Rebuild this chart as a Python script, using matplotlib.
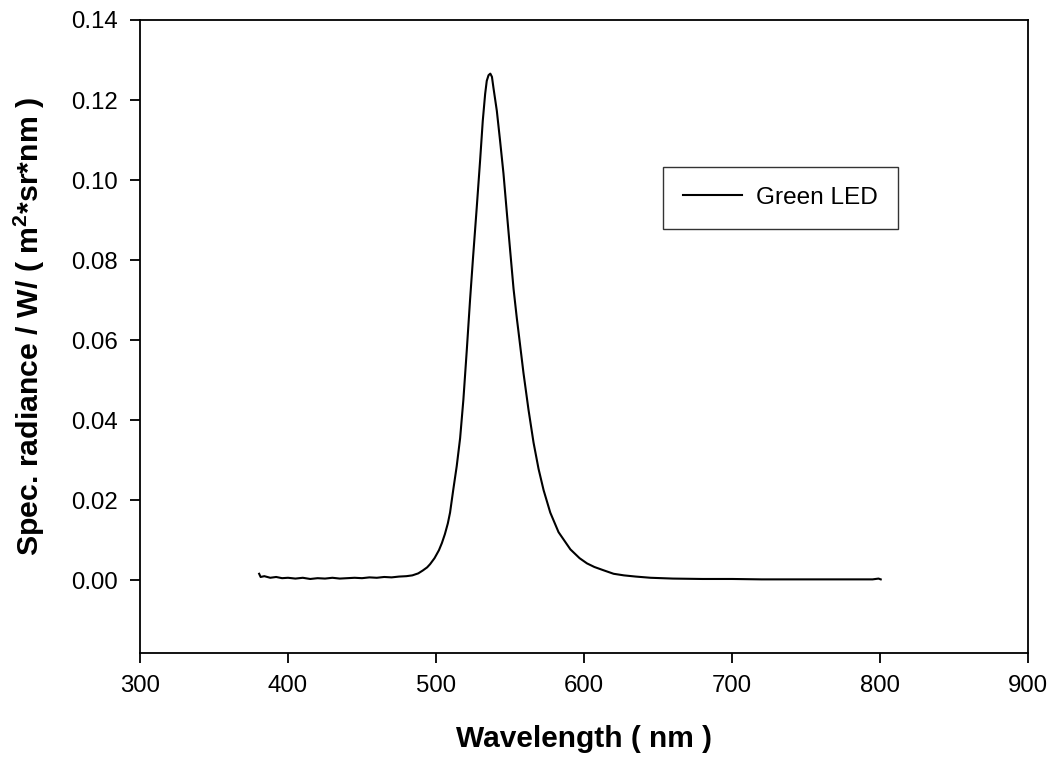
import matplotlib
matplotlib.use("Agg")
import matplotlib.pyplot as plt

plt.rcParams['font.family'] = ['Liberation Sans', 'DejaVu Sans']
plt.rcParams['mathtext.fontset'] = 'custom'
plt.rcParams['mathtext.rm'] = 'Liberation Sans'
plt.rcParams['mathtext.bf'] = 'Liberation Sans:bold'

# Spectrum (wavelength in nm, spectral radiance)
wavelength = [380.5, 381.5, 384, 388, 392, 396, 400, 405, 410, 415, 420, 425,
              430, 435, 440, 445, 450, 455, 460, 465, 470, 475, 480, 484,
              488, 491, 494, 496, 499, 502, 504, 506, 508, 509.5, 511.7, 514,
              516.3, 518.5, 520.8, 523, 525, 527.5, 529.8, 531.6, 533.2, 534.3,
              535.5, 536.7, 537.8, 538.8, 541.1, 543.3, 545.6, 547.9, 550.1,
              552.4, 554.6, 555.7, 559.1, 562.5, 565.9, 569.3, 572.7, 577.2,
              582.8, 590.8, 597, 602, 607, 613, 620, 627, 635, 645, 660, 680,
              700, 720, 740, 760, 780, 795, 799, 800.5]
radiance = [0.0016, 0.0008, 0.0010, 0.0006, 0.0008, 0.0005, 0.0006, 0.0004,
            0.0006, 0.0003, 0.0005, 0.0004, 0.0006, 0.0004, 0.0005, 0.0006,
            0.0005, 0.0007, 0.0006, 0.0008, 0.0007, 0.0009, 0.0010, 0.0012,
            0.0017, 0.0024, 0.0032, 0.0040, 0.0055, 0.0075, 0.0093, 0.0115,
            0.0142, 0.0169, 0.0227, 0.0285, 0.0355, 0.0451, 0.0575, 0.0700,
            0.0805, 0.0930, 0.1049, 0.1148, 0.1215, 0.1248, 0.1262, 0.1266,
            0.1258, 0.1231, 0.1173, 0.1098, 0.1016, 0.0917, 0.0824, 0.0728,
            0.0655, 0.0622, 0.0518, 0.0426, 0.0344, 0.0278, 0.0225, 0.0169,
            0.0120, 0.0077, 0.0055, 0.0042, 0.0033, 0.0025, 0.0016, 0.0012,
            0.0009, 0.0006, 0.0004, 0.0003, 0.0003, 0.0002, 0.0002, 0.0002,
            0.0002, 0.0002, 0.0004, 0.0002]
series_label = "Green LED"
x_ticks = [300, 400, 500, 600, 700, 800, 900]
y_ticks = [0.00, 0.02, 0.04, 0.06, 0.08, 0.10, 0.12, 0.14]
x_title = "Wavelength ( nm )"
y_title = r"Spec. radiance / W/ ( m$^{\mathbf{2}}$*sr*nm )"

fig = plt.figure(figsize=(10.56, 7.66), dpi=100)
ax = fig.add_axes([140/1056, 1 - 653/766, 888/1056, 633/766])

ax.plot(wavelength, radiance, color='black', lw=1.5, label=series_label)

ax.set_xlim(300, 900)
ax.set_ylim(-0.0182, 0.14)
ax.set_xticks(x_ticks)
ax.set_yticks(y_ticks)
ax.set_xticklabels([str(v) for v in x_ticks])
ax.set_yticklabels([f"{v:.2f}" for v in y_ticks])

for s in ax.spines.values():
    s.set_linewidth(1.3)
ax.tick_params(direction='out', length=7.2, width=1.3, labelsize=17.3, pad=9,
               top=False, right=False)

ax.set_xlabel(x_title, fontsize=21.5, fontweight='bold')
ax.xaxis.set_label_coords(0.5, -0.113)
ax.set_ylabel(y_title, fontsize=21.8, fontweight='bold')
ax.yaxis.set_label_coords(-0.105, 0.515)

leg = ax.legend(loc='upper left', bbox_to_anchor=(0.589, 0.768), fontsize=17.6,
                frameon=True, fancybox=False, shadow=False, handlelength=2.4,
                handletextpad=0.6, borderpad=0.82, borderaxespad=0)
leg.get_frame().set_edgecolor('black')
leg.get_frame().set_linewidth(1.0)

fig.savefig("out.png", dpi=100)
